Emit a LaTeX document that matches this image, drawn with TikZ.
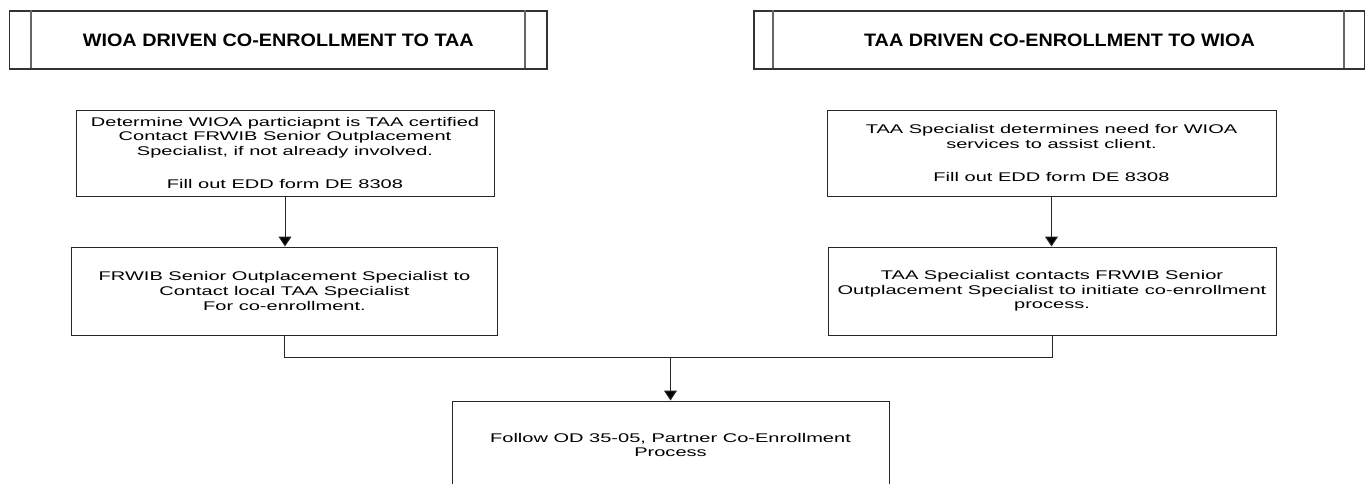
\documentclass[tikz,border=0pt]{standalone}
\usepackage{fontspec}
\setmainfont{Liberation Sans}
\newfontfamily\bodyfont[FakeStretch=1.59]{Liberation Sans}
\newfontfamily\titlefont[FakeStretch=1.1]{Liberation Sans}
\usetikzlibrary{arrows.meta}
\begin{document}
\begin{tikzpicture}[x=0.5pt,y=-0.5pt,
  box/.style={draw=black!85, line width=0.5pt, align=center, inner sep=0pt,
    font=\bodyfont\fontsize{6.3pt}{7.3pt}\selectfont},
  hdr/.style={draw=black!80, line width=0.7pt, inner sep=0pt,
    font=\titlefont\bfseries\fontsize{9pt}{10pt}\selectfont},
  hline/.style={draw=black!60, line width=0.9pt},
  link/.style={draw=black!85, line width=0.5pt},
  arr/.style={link, -{Triangle[length=5pt,width=6.5pt,fill=black]}}]
\useasboundingbox (0,0) rectangle (1365,483);
\clip (0,0) rectangle (1365,483);
\fill[white] (0,0) rectangle (1365,483);
% headers
\node[hdr, minimum width=268.7pt, minimum height=29pt] (h1) at (278.3,40) {WIOA DRIVEN CO-ENROLLMENT TO TAA};
\draw[hline] (h1.north west) ++(22.4,0) -- ++(0,58);
\draw[hline] (h1.north east) ++(-22.4,0) -- ++(0,58);
\node[hdr, minimum width=305.5pt, minimum height=29pt] (h2) at (1059.5,40) {TAA DRIVEN CO-ENROLLMENT TO WIOA};
\draw[hline] (h2.north west) ++(20,0) -- ++(0,58);
\draw[hline] (h2.north east) ++(-22,0) -- ++(0,58);
% boxes
\node[box, minimum width=209pt, minimum height=43pt] (b1) at (285,153)
  {Determine WIOA particiapnt is TAA certified\\Contact FRWIB Senior Outplacement\\Specialist, if not already involved.\\[9.5pt]Fill out EDD form DE 8308};
\node[box, minimum width=213pt, minimum height=44pt] (b2) at (284.5,291)
  {FRWIB Senior Outplacement Specialist to\\Contact local TAA Specialist\\For co-enrollment.};
\node[box, minimum width=224.5pt, minimum height=43pt] (b3) at (1051.5,153)
  {TAA Specialist determines need for WIOA\\services to assist client.\\[9.5pt]Fill out EDD form DE 8308};
\node[box, minimum width=224pt, minimum height=44pt] (b4) at (1052,291)
  {TAA Specialist contacts FRWIB Senior\\Outplacement Specialist to initiate co-enrollment\\process.};
\node[box, minimum width=218.5pt, minimum height=44pt] (b5) at (670.5,445)
  {Follow OD 35-05, Partner Co-Enrollment\\Process};
% connectors
\coordinate (m) at (670.5,357);
\draw[arr] (b1.south) -- (b1.south |- b2.north);
\draw[arr] (b3.south) -- (b3.south |- b4.north);
\draw[link] (b2.south) |- (m);
\draw[link] (b4.south) |- (m);
\draw[arr] (m) -- (b5.north);
\end{tikzpicture}
\end{document}
